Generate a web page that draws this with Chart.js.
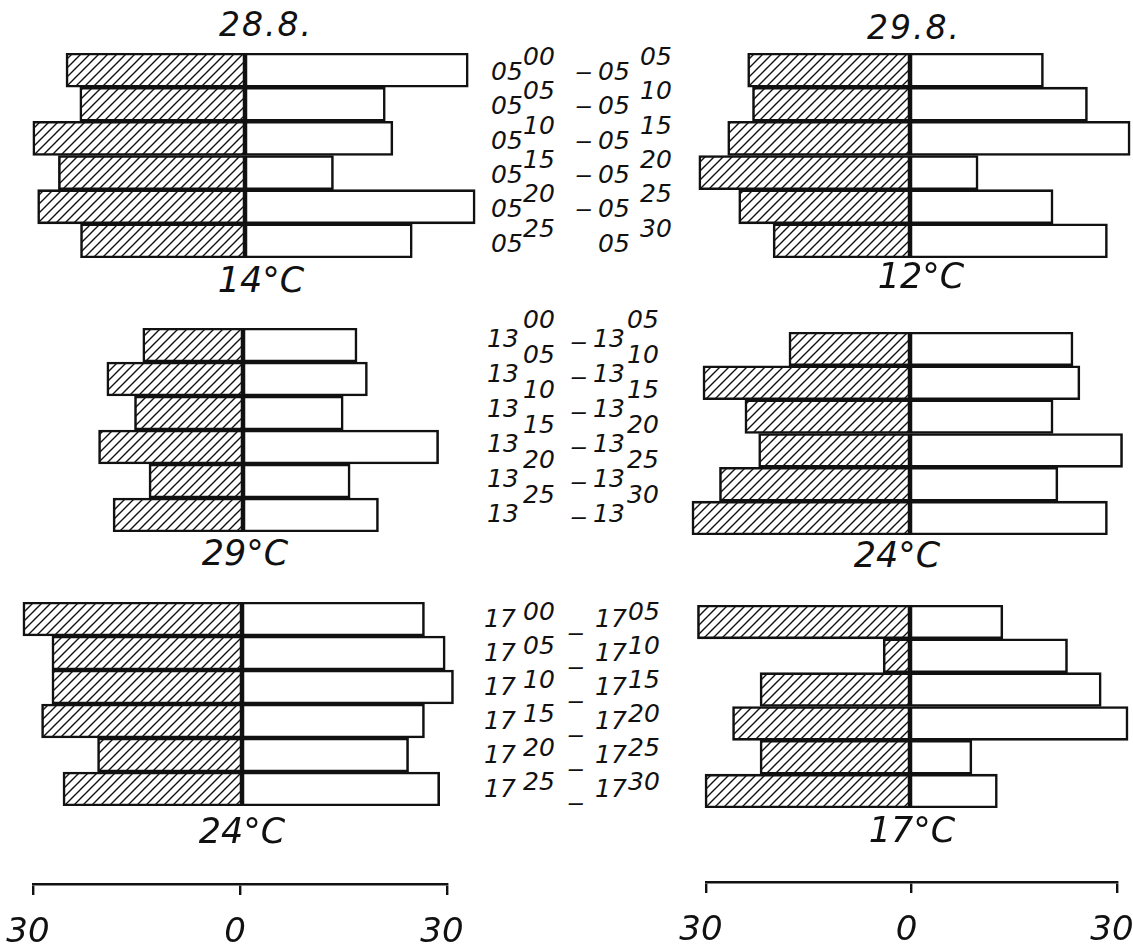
<!DOCTYPE html>
<html>
<head>
<meta charset="utf-8">
<script src="https://cdn.jsdelivr.net/npm/chart.js@4.4.1/dist/chart.umd.min.js"></script>
<style>
html,body{margin:0;padding:0;background:#fff;overflow:hidden;width:1133px;height:944px;}
body{position:relative;}
.box{position:absolute;}
.t{position:absolute;font-family:"DejaVu Sans",sans-serif;font-style:italic;color:#111;line-height:1;white-space:nowrap;}
</style>
</head>
<body>
<script>
// ---------- data ----------
const dates = ['28.8.', '29.8.'];
const labelHours = ['05', '13', '17'];
const labelFrom = ['00', '05', '10', '15', '20', '25'];
const labelTo = ['05', '10', '15', '20', '25', '30'];
const tempsDay1 = ['14°C', '29°C', '24°C'];
const tempsDay2 = ['12°C', '24°C', '17°C'];
const axisTicks = [-30, 0, 30];

// hatched (left) and open (right) bars, 28.8.
const d1h05Left  = [25.9, 23.9, 30.7, 27.0, 30.0, 23.8];
const d1h05Right = [32.3, 20.3, 21.4, 12.8, 33.3, 24.2];
const d1h13Left  = [14.5, 19.7, 15.7, 20.9, 13.6, 18.8];
const d1h13Right = [16.5, 18.0, 14.5, 28.3, 15.5, 19.6];
const d1h17Left  = [31.7, 27.5, 27.5, 29.0, 20.9, 25.9];
const d1h17Right = [26.4, 29.4, 30.6, 26.4, 24.1, 28.6];
// 29.8.
const d2h05Left  = [23.6, 22.9, 26.5, 30.7, 24.9, 19.9];
const d2h05Right = [19.4, 25.8, 32.0, 9.9, 20.8, 28.7];
const d2h13Left  = [17.6, 30.1, 24.0, 22.0, 27.7, 31.7];
const d2h13Right = [23.7, 24.7, 20.8, 30.9, 21.5, 28.7];
const d2h17Left  = [30.9, 3.9, 21.8, 25.8, 21.8, 29.8];
const d2h17Right = [13.5, 22.9, 27.8, 31.7, 9.0, 12.7];

// ---------- helpers ----------
const INK = '#111';

function makeHatch() {
  const s = 9;
  const c = document.createElement('canvas');
  c.width = s; c.height = s;
  const g = c.getContext('2d');
  g.fillStyle = '#fff'; g.fillRect(0, 0, s, s);
  g.strokeStyle = INK; g.lineWidth = 1.4;
  g.beginPath();
  g.moveTo(-1, s + 1); g.lineTo(s + 1, -1);
  g.moveTo(-1, 1); g.lineTo(1, -1);
  g.moveTo(s - 1, s + 1); g.lineTo(s + 1, s - 1);
  g.stroke();
  return g.createPattern(c, 'repeat');
}
const hatch = makeHatch();

function addCanvas(left, top, w, h) {
  const wrap = document.createElement('div');
  wrap.className = 'box';
  wrap.style.left = left + 'px'; wrap.style.top = top + 'px';
  wrap.style.width = w + 'px'; wrap.style.height = h + 'px';
  const cv = document.createElement('canvas');
  cv.width = w; cv.height = h;
  cv.style.width = w + 'px'; cv.style.height = h + 'px';
  wrap.appendChild(cv);
  document.body.appendChild(wrap);
  return cv;
}

function addText(txt, x, top, size, align) {
  const d = document.createElement('div');
  d.className = 't';
  d.textContent = txt;
  d.style.fontSize = size + 'px';
  d.style.top = top + 'px';
  if (align === 'center') {
    d.style.left = (x - 200) + 'px';
    d.style.width = '400px';
    d.style.textAlign = 'center';
  } else {
    d.style.left = x + 'px';
  }
  document.body.appendChild(d);
  return d;
}

function panel(p, hour, leftVals, rightVals) {
  const cv = addCanvas(p.left, p.top, p.w, p.h);
  const cats = labelFrom.map((f, i) => hour + ':' + f + '–' + hour + ':' + labelTo[i]);
  const common = {
    borderColor: INK, borderWidth: 2.6, borderSkipped: false,
    categoryPercentage: 1, barPercentage: 1
  };
  new Chart(cv, {
    type: 'bar',
    data: {
      labels: cats,
      datasets: [
        Object.assign({ data: leftVals.map(v => -v), backgroundColor: hatch }, common),
        Object.assign({ data: rightVals, backgroundColor: '#fff' }, common)
      ]
    },
    options: {
      indexAxis: 'y', responsive: false, animation: false,
      layout: { padding: 0, autoPadding: false },
      plugins: { legend: { display: false }, tooltip: { enabled: false } },
      scales: {
        x: { display: false, min: p.min, max: p.max, stacked: true },
        y: { display: false, stacked: true }
      }
    }
  });
}

function axis(a) {
  const cv = addCanvas(a.left, a.top, a.w, a.h);
  new Chart(cv, {
    type: 'scatter',
    data: { datasets: [{ data: [] }] },
    options: {
      responsive: false, animation: false,
      layout: { padding: { left: a.padL, right: a.padR, top: 0, bottom: 0 } },
      plugins: { legend: { display: false }, tooltip: { enabled: false } },
      scales: {
        x: {
          min: axisTicks[0], max: axisTicks[axisTicks.length - 1],
          afterBuildTicks: s => { s.ticks = axisTicks.map(v => ({ value: v })); },
          grid: { display: true, drawOnChartArea: false, drawTicks: true, tickLength: 11, color: INK, lineWidth: 2.4 },
          border: { display: true, color: INK, width: 2.6 },
          ticks: {
            color: INK, padding: 18, labelOffset: -5, maxRotation: 0,
            font: { family: 'DejaVu Sans', style: 'italic', size: 34 },
            callback: v => String(Math.abs(v))
          }
        },
        y: { display: false, min: 0, max: 1 }
      }
    }
  });
}

// ---------- layout ----------
const L = { w: 470, min: -34, max: 34 };
const R = { w: 454, min: -33, max: 33, left: 683 };

panel(Object.assign({ left: 10, top: 53, h: 205 }, L), labelHours[0], d1h05Left, d1h05Right);
panel(Object.assign({ left: 8, top: 328, h: 204 }, L), labelHours[1], d1h13Left, d1h13Right);
panel(Object.assign({ left: 7, top: 602, h: 204 }, L), labelHours[2], d1h17Left, d1h17Right);
panel(Object.assign({ top: 53, h: 205 }, R), labelHours[0], d2h05Left, d2h05Right);
panel(Object.assign({ top: 332, h: 203 }, R), labelHours[1], d2h13Left, d2h13Right);
panel(Object.assign({ top: 605, h: 203 }, R), labelHours[2], d2h17Left, d2h17Right);

axis({ left: -20, top: 804, w: 510, h: 160, padL: 53, padR: 43 });
axis({ left: 660, top: 802, w: 500, h: 160, padL: 46, padR: 43 });

// titles
addText(dates[0], 266, 8, 33, 'center').style.letterSpacing = '2px';
addText(dates[1], 914, 11, 33, 'center').style.letterSpacing = '2px';

// temperatures
const tempPos1 = [[261, 263], [245, 536], [242, 814]];
const tempPos2 = [[921, 259], [897, 538], [912, 813]];
tempsDay1.forEach((t, i) => addText(t, tempPos1[i][0], tempPos1[i][1], 35, 'center'));
tempsDay2.forEach((t, i) => addText(t, tempPos2[i][0], tempPos2[i][1], 35, 'center'));

// central time labels
const groupLayout = [
  { first: 80,  pitch: 34.4, raise: 15, dashDy: -7, xs: [491, 523, 575, 598, 640], noDashLast: true },
  { first: 347, pitch: 35.0, raise: 19, dashDy: -4, xs: [487, 523, 570, 593, 627], noDashLast: false },
  { first: 627, pitch: 34.0, raise: 7,  dashDy: 7,  xs: [484, 523, 567, 595, 628], noDashLast: false }
];
const F = 25, BASE = 0.846 * F;
labelHours.forEach((hr, g) => {
  const gl = groupLayout[g];
  labelFrom.forEach((from, i) => {
    const b = gl.first + i * gl.pitch;
    addText(hr, gl.xs[0], b - BASE, F);
    addText(from, gl.xs[1], b - gl.raise - BASE, F);
    if (!(gl.noDashLast && i === labelFrom.length - 1)) {
      const d = addText('–', gl.xs[2], b + gl.dashDy + 7 - BASE, F);
      d.style.transform = 'scaleX(1.4)';
      d.style.transformOrigin = 'left center';
    }
    addText(hr, gl.xs[3], b - BASE, F);
    addText(labelTo[i], gl.xs[4], b - gl.raise - BASE, F);
  });
});
</script>
</body>
</html>
